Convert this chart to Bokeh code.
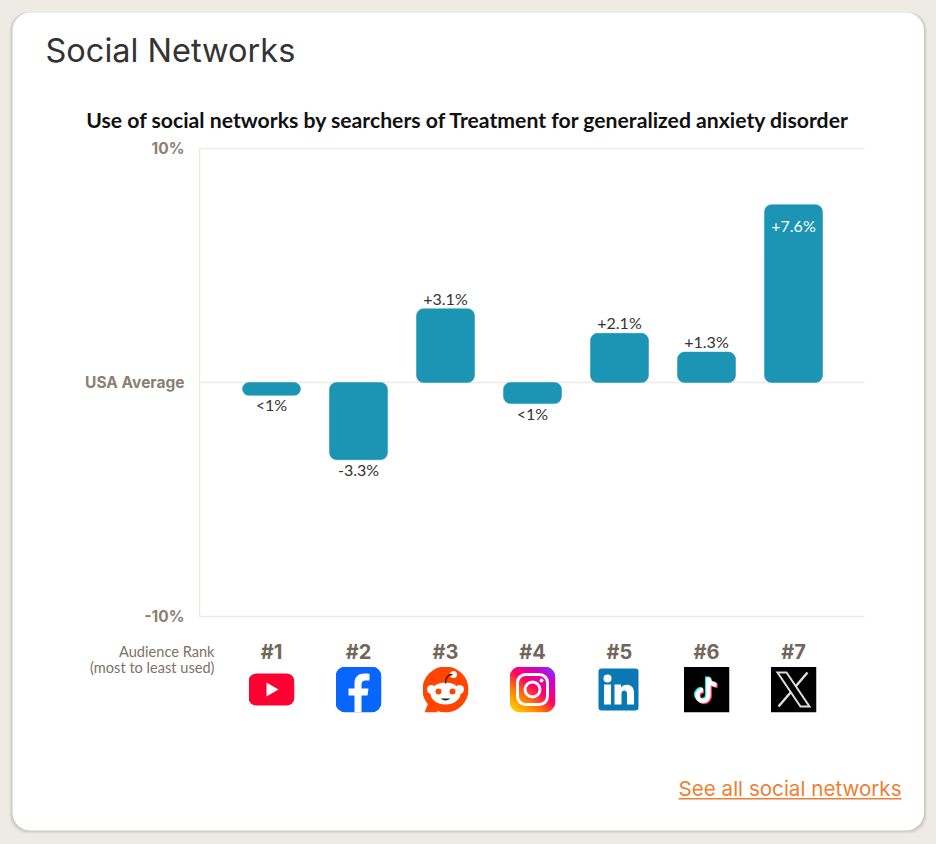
import base64
from bokeh.core.properties import value
from bokeh.plotting import figure
from bokeh.embed import file_html
from bokeh.resources import INLINE
from bokeh.models import (ColumnDataSource, Range1d, LinearAxis, FixedTicker,
                          Label, BoxAnnotation)

# chart values
networks = ["YouTube", "Facebook", "Reddit", "Instagram", "LinkedIn", "TikTok", "X"]
ranks = [1, 2, 3, 4, 5, 6, 7]
rank_labels = ["#1", "#2", "#3", "#4", "#5", "#6", "#7"]
values = [-0.55, -3.3, 3.15, -0.9, 2.1, 1.3, 7.6]
value_labels = ["<1%", "-3.3%", "+3.1%", "<1%", "+2.1%", "+1.3%", "+7.6%"]
y_ticks = [-10, 0, 10]
y_tick_labels = {-10: "-10%", 0: "USA Average", 10: "10%"}

TITLE = "Social Networks"
SUBTITLE = "Use of social networks by searchers of Treatment for generalized anxiety disorder"
LINK = "See all social networks"

BEIGE = "#eeebe5"
GRID = "#eeeae6"
BAR = "#1b95b3"
TAUPE = "#7d7265"

W, H = 936, 844

# the frame fills the whole canvas, one rank is 87px and 1% is 23.4px
PX_RANK = 87.0
PX_PCT = 23.4


def x_at(px):
    return 1 + (px - 272) / PX_RANK


def y_at(py):
    return (382 - py) / PX_PCT


def sy(py):
    # page pixel row to screen units of the canvas
    return H - py


p = figure(width=W, height=H, output_backend="svg", toolbar_location=None,
           x_range=Range1d(x_at(1), x_at(W + 1)), y_range=Range1d(y_at(H), y_at(0)),
           x_axis_location=None, y_axis_location=None, min_border=0,
           background_fill_color=BEIGE, border_fill_color=BEIGE, outline_line_color=None)
p.grid.visible = False

# card with a soft shadow
for grow, alpha in [(3, 0.10), (2, 0.12), (1, 0.15)]:
    p.add_layout(BoxAnnotation(left=12 - grow, right=923.5 + grow, top=sy(12), bottom=sy(830 + grow),
                               left_units="screen", right_units="screen", top_units="screen",
                               bottom_units="screen", fill_color="#8a8578", fill_alpha=alpha,
                               line_color=None, border_radius=18, level="underlay"))
p.add_layout(BoxAnnotation(left=12, right=923.5, top=sy(12), bottom=sy(830),
                           left_units="screen", right_units="screen", top_units="screen",
                           bottom_units="screen", fill_color="white", fill_alpha=1,
                           line_color=None, border_radius=18, level="underlay"))

# grid lines only span the plot area, so they are segments at the y ticks
p.segment(x0=[x_at(200)] * len(y_ticks), x1=[x_at(865)] * len(y_ticks), y0=y_ticks, y1=y_ticks,
          line_color=GRID, line_width=1.5)

# axes sit inside the frame
yaxis = LinearAxis(fixed_location=x_at(200), ticker=FixedTicker(ticks=y_ticks),
                   major_label_overrides=y_tick_labels, bounds=(-10, 10))
yaxis.axis_line_color = GRID
yaxis.axis_line_width = 1.5
yaxis.major_tick_line_color = None
yaxis.minor_tick_line_color = None
yaxis.major_label_standoff = 9
yaxis.major_label_text_font = "Inter"
yaxis.major_label_text_font_style = "bold"
yaxis.major_label_text_font_size = "15.5px"
yaxis.major_label_text_color = "#8a7f72"
p.add_layout(yaxis, "left")

xaxis = LinearAxis(fixed_location=-10, ticker=FixedTicker(ticks=ranks),
                   major_label_overrides=dict(zip(ranks, rank_labels)))
xaxis.axis_line_color = None
xaxis.major_tick_line_color = None
xaxis.minor_tick_line_color = None
xaxis.major_label_standoff = 17
xaxis.major_label_text_font = "Inter"
xaxis.major_label_text_font_style = "bold"
xaxis.major_label_text_font_size = "20px"
xaxis.major_label_text_color = "#70665a"
p.add_layout(xaxis, "below")

# bars
source = ColumnDataSource(data=dict(rank=ranks, value=values, label=value_labels, network=networks))
p.vbar(x="rank", top="value", bottom=0, width=58 / PX_RANK, source=source,
       fill_color=BAR, line_color=BAR, line_width=0.5, border_radius=7)

# value labels, the tallest one goes inside its bar
top = max(values)
outside_up = ColumnDataSource(data=dict(
    x=[r for r, v in zip(ranks, values) if 0 < v < top],
    y=[v for v in values if 0 < v < top],
    t=[l for l, v in zip(value_labels, values) if 0 < v < top]))
outside_down = ColumnDataSource(data=dict(
    x=[r for r, v in zip(ranks, values) if v < 0],
    y=[v for v in values if v < 0],
    t=[l for l, v in zip(value_labels, values) if v < 0]))
inside = ColumnDataSource(data=dict(
    x=[r for r, v in zip(ranks, values) if v == top],
    y=[top],
    t=[l for l, v in zip(value_labels, values) if v == top]))
font = dict(text_font=value("Lato"), text_font_size="16px", text_align="center")
p.text("x", "y", "t", source=outside_up, text_baseline="bottom", y_offset=-1, text_color="#333333", **font)
p.text("x", "y", "t", source=outside_down, text_baseline="top", y_offset=0, text_color="#333333", **font)
p.text("x", "y", "t", source=inside, text_baseline="top", y_offset=11, text_color="white", **font)

# logos
youtube = """<rect x="0" y="7" width="46" height="32" rx="8" fill="#ff0033"/><path d="M18 16v14l12-7z" fill="#fff"/>"""
facebook = """<rect width="46" height="46" rx="10" fill="#0866ff"/>
<path d="M19 46V29h-6v-7h6v-5c0-7 4-10 10-10 2 0 4 .2 5 .4V14h-4c-3 0-4 2-4 4v4h7l-1 7h-6v17z" fill="#fff"/>"""
reddit = """<circle cx="23" cy="23" r="23" fill="#ff4500"/><path d="M2 46h14L6 36z" fill="#ff4500"/>
<ellipse cx="23" cy="27" rx="15" ry="11" fill="#fff"/><circle cx="9" cy="23" r="4.5" fill="#fff"/>
<circle cx="37" cy="23" r="4.5" fill="#fff"/><circle cx="31" cy="8" r="3.5" fill="#fff"/>
<path d="M23 17c0-6 2-9 7-9" stroke="#4a1a00" stroke-width="1.5" fill="none"/>
<circle cx="16" cy="25" r="3" fill="#ff4500"/><circle cx="30" cy="25" r="3" fill="#ff4500"/>
<path d="M18 32q5 4 10 0z" fill="#222"/>"""
instagram = """<defs><linearGradient id="g" x1="0.1" y1="1" x2="0.9" y2="0">
<stop offset="0" stop-color="#ffd600"/><stop offset="0.3" stop-color="#ff7a00"/>
<stop offset="0.55" stop-color="#ff0069"/><stop offset="0.8" stop-color="#d300c5"/>
<stop offset="1" stop-color="#7638fa"/></linearGradient></defs>
<rect width="46" height="46" rx="11" fill="url(#g)"/>
<rect x="8" y="8" width="30" height="30" rx="8" fill="none" stroke="#fff" stroke-width="3"/>
<circle cx="23" cy="23" r="7.5" fill="none" stroke="#fff" stroke-width="3"/><circle cx="32" cy="14" r="2" fill="#fff"/>"""
linkedin = """<rect x="2" y="2" width="40" height="42" rx="3" fill="#0a78b5"/><circle cx="11" cy="12" r="4" fill="#fff"/>
<rect x="7.5" y="18" width="7" height="20" fill="#fff"/>
<path d="M18 18h6.5v3c2-4 13-5 13 5v12h-7V27c0-4-5.5-4-5.5 0v11h-7z" fill="#fff"/>"""
tiktok = """<rect width="46" height="46" fill="#000"/>
<g fill="none" stroke-width="4.5"><path d="M25 11v18a5.5 5.5 0 1 1-5.5-5.5M25 11c0 4 3 7 8 7.5" stroke="#25f4ee" transform="translate(-1.2 -1)"/>
<path d="M25 11v18a5.5 5.5 0 1 1-5.5-5.5M25 11c0 4 3 7 8 7.5" stroke="#fe2c55" transform="translate(1.2 1)"/>
<path d="M25 11v18a5.5 5.5 0 1 1-5.5-5.5M25 11c0 4 3 7 8 7.5" stroke="#fff"/></g>"""
x_logo = """<rect width="46" height="46" fill="#000"/>
<path d="M7 6h9l23 34h-9z" fill="none" stroke="#ddd" stroke-width="2"/>
<path d="M37 6L25.5 19.5M20.5 25.5L8 40" stroke="#ddd" stroke-width="2.5"/>"""
logos = [youtube, facebook, reddit, instagram, linkedin, tiktok, x_logo]


def data_uri(body):
    svg = f'<svg xmlns="http://www.w3.org/2000/svg" width="184" height="184" viewBox="0 0 46 46">{body}</svg>'
    return "data:image/svg+xml;base64," + base64.b64encode(svg.encode()).decode()


p.image_url(url=[data_uri(b) for b in logos], x=ranks, y=[y_at(689)] * 7,
            w=46, h=46, w_units="screen", h_units="screen", anchor="center")

# texts around the chart
p.add_layout(Label(x=45, y=sy(50), x_units="screen", y_units="screen", text=TITLE,
                   text_font="Inter", text_font_size="32.5px", text_color="#333333",
                   text_baseline="middle"))
p.add_layout(Label(x=468, y=sy(119), x_units="screen", y_units="screen", text=SUBTITLE,
                   text_font="Lato", text_font_style="bold", text_font_size="21.2px",
                   text_color="#111111", text_align="center", text_baseline="middle"))
p.add_layout(Label(x=214, y=sy(651), x_units="screen", y_units="screen", text="Audience Rank",
                   text_font="Lato", text_font_size="14.6px", text_color=TAUPE,
                   text_align="right", text_baseline="middle"))
p.add_layout(Label(x=214, y=sy(667), x_units="screen", y_units="screen", text="(most to least used)",
                   text_font="Lato", text_font_size="14.6px", text_color=TAUPE,
                   text_align="right", text_baseline="middle"))
p.add_layout(Label(x=901, y=sy(788), x_units="screen", y_units="screen", text=LINK,
                   text_font="Inter", text_font_size="20.6px", text_color="#ee7f33",
                   text_align="right", text_baseline="middle"))
p.add_layout(BoxAnnotation(left=678, right=901, top=sy(797.5), bottom=sy(799),
                           left_units="screen", right_units="screen", top_units="screen",
                           bottom_units="screen", fill_color="#ee7f33", fill_alpha=1, line_color=None))

html = file_html(p, INLINE)
html = html.replace("<body>", f'<body style="background:{BEIGE}">')
open("out.html", "w").write(html)
